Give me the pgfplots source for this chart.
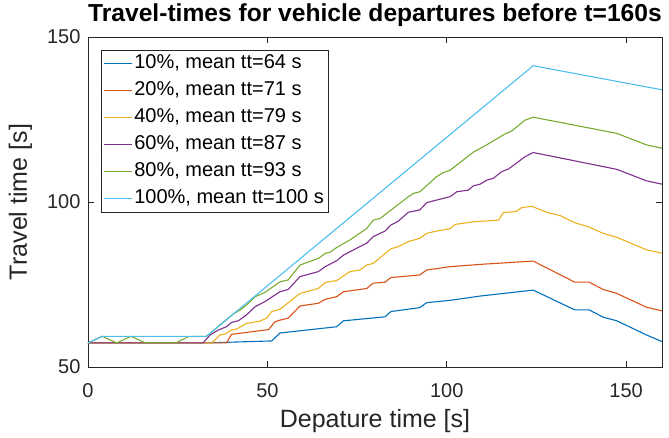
\documentclass[border=0pt]{standalone}
\usepackage{pgfplots}
\pgfplotsset{compat=1.18}
\usepackage{fontspec}
\setmainfont{Liberation Sans}
% MATLAB default line colours
\definecolor{mA}{rgb}{0,0.447,0.741}
\definecolor{mB}{rgb}{0.850,0.325,0.098}
\definecolor{mC}{rgb}{0.929,0.694,0.125}
\definecolor{mD}{rgb}{0.494,0.184,0.556}
\definecolor{mE}{rgb}{0.466,0.674,0.188}
\definecolor{mF}{rgb}{0.301,0.745,0.933}
\definecolor{axgray}{rgb}{0.15,0.15,0.15}
\begin{document}
\begin{tikzpicture}
\begin{axis}[
  width=574pt, height=330pt, scale only axis,
  xmin=0, xmax=160, ymin=50, ymax=150,
  xtick={0,50,100,150}, ytick={50,100,150},
  tick align=inside, major tick length=6pt,
  axis line style={draw=axgray, line width=0.8pt},
  tick style={draw=axgray, line width=0.8pt},
  /pgf/number format/assume math mode=true,
  ticklabel style={font=\fontsize{20}{24}\selectfont, text=axgray},
  xticklabel style={anchor=base, yshift=-30pt},
  yticklabel style={xshift=-4pt},
  xlabel={Depature time [s]},
  ylabel={Travel time [s]},
  label style={font=\fontsize{25}{29}\selectfont, text=axgray},
  xlabel style={at={(axis description cs:0.5,0)}, anchor=base, yshift=-60pt},
  ylabel style={at={(axis description cs:-0.1063,0.5)}, anchor=base, rotate=0},
  title={Travel-times for vehicle departures before t=160s},
  title style={font=\fontsize{24.6}{29}\selectfont\bfseries, at={(axis description cs:0.5,1)}, anchor=base, yshift=10pt},
  legend cell align=left,
  legend image code/.code={\draw[#1, line width=1.1pt] (0pt,0pt) -- (28pt,0pt);},
  legend style={at={(0.0226,0.9606)}, anchor=north west, draw=axgray,
    font=\fontsize{20}{24}\selectfont, inner xsep=2pt, inner ysep=1pt,
    nodes={inner sep=2pt, text height=15pt, text depth=6pt}, row sep=2pt},
  every axis plot/.append style={line width=1.1pt},
]
\addplot[mA] coordinates {(0,57.3) (33,57.3) (51.2,57.9) (53.5,60.3) (69.3,62.2) (71.2,64) (82.8,65.2) (84.4,66.8) (92.5,68) (94.4,69.5) (100.9,70.2) (109.3,71.5) (124.1,73.3) (135.7,67.3) (139.7,67.3) (143.6,65.1) (147.4,64.0) (155.7,59.7) (160,57.7)};
\addlegendentry{10\%, mean tt=64 s}
\addplot[mB] coordinates {(0,57.3) (38.6,57.3) (40,59.9) (49.3,61.2) (50.3,61.3) (52.1,63.7) (53.5,64.2) (55.8,64.8) (59.1,68.5) (64.2,69.3) (66.1,70.5) (69.3,71.3) (71.2,72.8) (77.7,73.8) (79.5,75.4) (82.8,75.7) (84.4,77.1) (92.5,77.9) (94.4,79.4) (100.9,80.4) (109.3,81.1) (124.1,82.1) (135.7,75.7) (139.7,75.7) (143.6,73.5) (147.4,72.3) (155.7,68.1) (160,67)};
\addlegendentry{20\%, mean tt=71 s}
\addplot[mC] coordinates {(0,57.3) (34.5,57.3) (36.8,59.7) (38.2,60) (40,61.2) (41.4,61.5) (44.2,63.2) (47.9,63.9) (49.8,64.8) (51.2,66.8) (53.5,67.5) (59.1,72.3) (64.2,73.8) (66.1,75.6) (69.3,76.2) (71.2,77.6) (73,78.9) (75.8,79.4) (77.7,80.9) (79.5,81.4) (82.8,84.4) (84.4,85.8) (86.5,86.5) (89.3,88) (92.5,89) (94.4,90.5) (97.2,91.2) (100.9,91.9) (102.3,93.2) (107.4,94) (114.4,94.5) (115.8,96.8) (119.3,97.1) (120.9,98.3) (123.7,98.7) (127.8,96.9) (131.6,95.9) (135.7,93.7) (139.5,92.5) (143.6,90.5) (147.4,89.3) (155.7,85.5) (160,84.5)};
\addlegendentry{40\%, mean tt=79 s}
\addplot[mD] coordinates {(0,57.3) (32.1,57.3) (34,59.7) (36.3,61.2) (38.6,62.2) (40,63.5) (41.9,64.0) (44.2,65.8) (46.6,68.3) (49.3,69.8) (53.5,72.8) (55.8,73.5) (59.1,77.4) (64.2,78.9) (66.1,80.4) (69.3,82.2) (71.2,83.9) (75.8,86.5) (77.7,87.5) (79.5,89.5) (82.8,91.2) (84.4,93) (86.5,94.2) (89.3,96.9) (92.5,97.6) (94.4,99.8) (97.2,100.6) (100.9,101.6) (102.8,103.1) (106,103.6) (107.4,104.9) (109.3,105.4) (111.1,106.6) (113,107.2) (115.3,109.2) (117.2,110) (121.8,113.7) (124.1,115) (147.4,109.9) (155.7,106.4) (160,105.4)};
\addlegendentry{60\%, mean tt=87 s}
\addplot[mE] coordinates {(0,57.3) (4,59.3) (8,57.3) (12,59.3) (16,57.3) (24.5,57.3) (28,59.2) (33,59.3) (40.5,66.1) (42.4,67.3) (44.2,68.8) (46.6,71.3) (49.3,72.6) (53.5,75.8) (55.8,76.4) (59.1,80.9) (64.2,82.9) (66.1,84.4) (67.5,84.8) (69.3,86.2) (73,88.5) (77.7,92) (79.5,94.5) (81.4,95) (89.3,101.6) (90.7,102.6) (92.5,103.1) (97.2,107.7) (99,108.9) (100.9,109.6) (107.4,115.1) (111.1,117.3) (116.2,120.6) (118.1,121.5) (121.8,124.8) (124.1,125.7) (147.4,120.8) (155.7,117.3) (160,116.3)};
\addlegendentry{80\%, mean tt=93 s}
\addplot[mF] coordinates {(0,57.3) (4,59.3) (33,59.3) (124.1,141.3) (160,134)};
\addlegendentry{100\%, mean tt=100 s}
\end{axis}
\pgfresetboundingbox
\path (-88pt,-70pt) rectangle (581pt,367pt);
\end{tikzpicture}
\end{document}
